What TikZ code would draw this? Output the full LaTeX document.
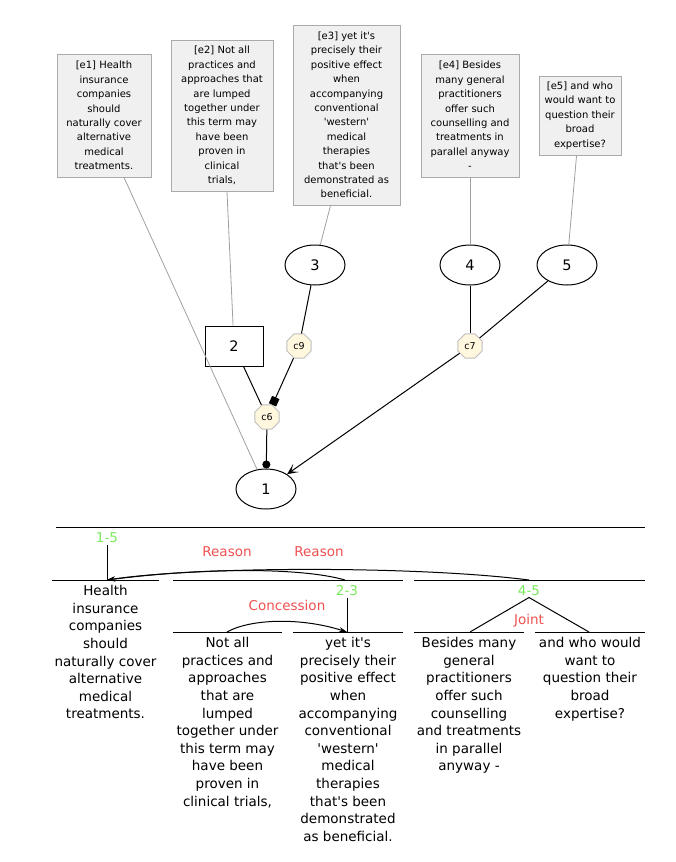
\documentclass[tikz,border=0pt]{standalone}
\usepackage{fontspec}
\usetikzlibrary{shapes.geometric,arrows.meta}
\newfontfamily\diafont{DejaVu Sans}
\newcommand\evfont{\diafont\fontsize{10}{14.4}\selectfont}
\newcommand\argfont{\diafont\fontsize{14.5}{16}\selectfont}
\newcommand\confont{\diafont\fontsize{9.5}{10}\selectfont}
\newcommand\segfont{\diafont\fontsize{13.5}{17.6}\selectfont}
\definecolor{boxgray}{RGB}{170,170,170}
\definecolor{boxfill}{RGB}{240,240,240}
\definecolor{linegray}{RGB}{160,160,160}
\definecolor{octgray}{RGB}{190,190,190}
\definecolor{octfill}{RGB}{255,247,222}
\definecolor{spangreen}{RGB}{120,235,90}
\definecolor{relred}{RGB}{240,80,80}

\begin{document}
\begin{tikzpicture}[x=1pt,y=-1pt,line width=1pt,
  evbox/.style={draw=boxgray,fill=boxfill,align=center,inner sep=0pt,font=\evfont},
  argnode/.style={draw,ellipse,minimum width=60pt,minimum height=40pt,font=\argfont},
  connode/.style={draw=octgray,fill=octfill,regular polygon,regular polygon sides=8,minimum size=26pt,inner sep=0pt,font=\confont},
  evline/.style={draw=linegray,line width=0.8pt},
  spanlbl/.style={text=spangreen,font=\segfont,inner sep=1pt},
  rellbl/.style={text=relred,font=\segfont,inner sep=1pt},
  segtext/.style={align=center,font=\segfont,anchor=north,inner sep=0pt},
  relarrow/.style={-{Stealth[length=8pt,width=5pt]}}]
  \useasboundingbox (0,0) rectangle (676,862);

  \node[evbox,minimum width=94pt,minimum height=123pt] (e1) at (104,115.5) {[e1] Health\\insurance\\companies\\should\\naturally cover\\alternative\\medical\\treatments.};
  \node[evbox,minimum width=102pt,minimum height=151pt] (e2) at (222,115.5) {[e2] Not all\\practices and\\approaches that\\are lumped\\together under\\this term may\\have been\\proven in\\clinical\\trials,};
  \node[evbox,minimum width=107pt,minimum height=180pt] (e3) at (346.5,115) {[e3] yet it's\\precisely their\\positive effect\\when\\accompanying\\conventional\\'western'\\medical\\therapies\\that's been\\demonstrated as\\beneficial.};
  \node[evbox,minimum width=98pt,minimum height=123pt] (e4) at (470,115.5) {[e4] Besides\\many general\\practitioners\\offer such\\counselling and\\treatments in\\parallel anyway\\-};
  \node[evbox,minimum width=82pt,minimum height=79pt] (e5) at (580,115.5) {[e5] and who\\would want to\\question their\\broad\\expertise?};

  \node[argnode] (n1) at (266,489) {1};
  \node[draw,minimum width=58pt,minimum height=40pt,font=\argfont] (n2) at (234,346) {2};
  \node[argnode] (n3) at (315,265) {3};
  \node[argnode] (n4) at (470,265) {4};
  \node[argnode] (n5) at (567,265) {5};

  \node[connode] (c9) at (299,346) {c9};
  \node[connode] (c7) at (470,346) {c7};
  \node[connode] (c6) at (267,417) {c6};

  \draw[evline] ([xshift=20pt]e1.south) -- (n1);
  \draw[evline] ([xshift=5pt]e2.south) -- (n2);
  \draw[evline] ([xshift=-16pt]e3.south) -- (n3);
  \draw[evline] (e4) -- (n4);
  \draw[evline] (e5) -- (n5);

  \draw (n3) -- (c9);
  \draw[-{Square[length=8pt,width=8pt]}] (c9) -- (c6);
  \draw (n2) -- (c6);
  \draw[-{Circle[length=8pt]}] (c6) -- (n1);
  \draw (n4) -- (c7);
  \draw (n5) -- (c7);
  \draw[-{Stealth[length=11pt,width=10pt,inset=6pt]}] (c7) -- (n1);

  \draw (56,527) -- (645,527);

  \coordinate (p15) at (107,580);
  \coordinate (p23) at (347,632);
  \coordinate (q23) at (345,580);
  \coordinate (q45) at (529,580);
  \coordinate (j4) at (470,632);
  \coordinate (j5) at (589,632);
  \coordinate (s2) at (227,632);

  \draw (52,580) -- (159,580);
  \draw (173,580) -- (403,580);
  \draw (414,580) -- (645,580);
  \draw (173,632) -- (282,632);
  \draw (293,632) -- (403,632);
  \draw (414,632) -- (524,632);
  \draw (535,632) -- (645,632);

  \node[spanlbl] (l15) at (107,538) {1-5};
  \node[spanlbl] (l23) at (347,591) {2-3};
  \node[spanlbl] (l45) at (529,591) {4-5};
  \node[rellbl] (r1) at (227,552) {Reason};
  \node[rellbl] (r2) at (319,552) {Reason};
  \node[rellbl] (rc) at (287,605) {Concession};
  \node[rellbl] (rj) at (529,621) {Joint};

  \draw (l15) -- (p15);
  \draw (l23) -- (p23);
  \draw (j4) -- (l45.south) -- (j5);
  \draw[relarrow] (q23) .. controls (300,567) and (200,568) .. (p15);
  \draw[relarrow] (q45) .. controls (420,566) and (200,566) .. (p15);
  \draw[relarrow] (s2) .. controls (250,619) and (300,617) .. (p23);

  \node[segtext] (t1) at (105.5,585) {Health\\insurance\\companies\\should\\naturally cover\\alternative\\medical\\treatments.};
  \node[segtext] (t2) at (227.5,637) {Not all\\practices and\\approaches\\that are\\lumped\\together under\\this term may\\have been\\proven in\\clinical trials,};
  \node[segtext] (t3) at (348,637) {yet it's\\precisely their\\positive effect\\when\\accompanying\\conventional\\'western'\\medical\\therapies\\that's been\\demonstrated\\as beneficial.};
  \node[segtext] (t4) at (469,637) {Besides many\\general\\practitioners\\offer such\\counselling\\and treatments\\in parallel\\anyway -};
  \node[segtext] (t5) at (590,637) {and who would\\want to\\question their\\broad\\expertise?};
\end{tikzpicture}
\end{document}
